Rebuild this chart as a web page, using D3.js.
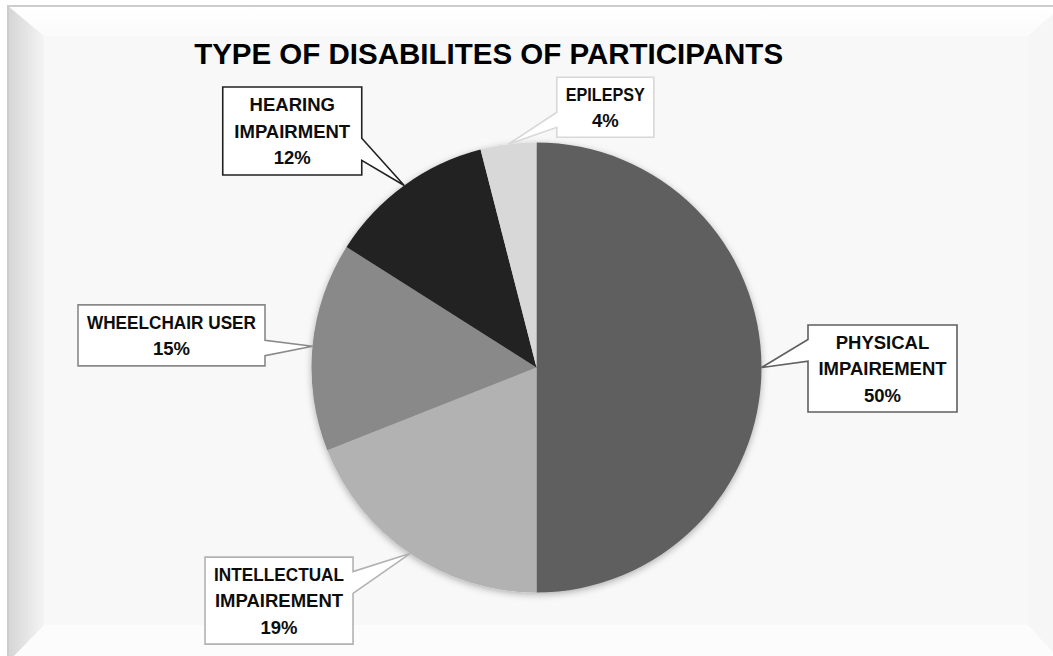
<!DOCTYPE html>
<html>
<head>
<meta charset="utf-8">
<script src="https://cdn.jsdelivr.net/npm/d3@7"></script>
<style>
  html, body { margin: 0; padding: 0; background: #ffffff; }
  svg { display: block; }
  text { font-family: "Liberation Sans", Arial, sans-serif; font-weight: bold; fill: #0d0d0d; }
</style>
</head>
<body>
<svg id="chart" width="1053" height="656"></svg>
<script>
// ---- data ----
const categories = ["PHYSICAL IMPAIREMENT", "INTELLECTUAL IMPAIREMENT", "WHEELCHAIR USER", "HEARING IMPAIRMENT", "EPILEPSY"];
const values = [50, 19, 15, 12, 4];
const labelLines = [
  ["PHYSICAL", "IMPAIREMENT"],
  ["INTELLECTUAL", "IMPAIREMENT"],
  ["WHEELCHAIR USER"],
  ["HEARING", "IMPAIRMENT"],
  ["EPILEPSY"]
];
const title = "TYPE OF DISABILITES OF PARTICIPANTS";

// ---- styling / layout ----
const palette = ["#5f5f5f", "#b2b2b2", "#898989", "#212121", "#d8d8d8"];
// callout box: offset of box centre from slice rim anchor, and box size
const callouts = {
  "PHYSICAL IMPAIREMENT":     { dx: 121,   dy: 1,     w: 149, h: 87 },
  "INTELLECTUAL IMPAIREMENT": { dx: -131,  dy: 47,    w: 148, h: 87 },
  "WHEELCHAIR USER":          { dx: -141,  dy: -11,   w: 187, h: 61 },
  "HEARING IMPAIRMENT":       { dx: -112,  dy: -54.5, w: 139, h: 88 },
  "EPILEPSY":                 { dx: 97,    dy: -37,   w: 97,  h: 60 }
};

const W = 1053, H = 656;
const cx = 536.5, cy = 367.5, R = 225;
const lineGap = 26.5, fontSize = 18.5;

const svg = d3.select("#chart");
const defs = svg.append("defs");

// bevelled frame
const gl = defs.append("linearGradient").attr("id", "bevelLeft").attr("x1", 0).attr("x2", 1).attr("y1", 0).attr("y2", 0);
gl.append("stop").attr("offset", 0).attr("stop-color", "#d5d5d5");
gl.append("stop").attr("offset", 1).attr("stop-color", "#f4f4f4");
const gt = defs.append("linearGradient").attr("id", "bevelTop").attr("x1", 0).attr("x2", 0).attr("y1", 0).attr("y2", 1);
gt.append("stop").attr("offset", 0).attr("stop-color", "#ffffff");
gt.append("stop").attr("offset", 1).attr("stop-color", "#fbfbfb");

const shadow = defs.append("filter").attr("id", "pieShadow")
  .attr("x", "-20%").attr("y", "-20%").attr("width", "140%").attr("height", "140%");
shadow.append("feDropShadow").attr("dx", 0).attr("dy", 2).attr("stdDeviation", 3.5)
  .attr("flood-color", "#000").attr("flood-opacity", 0.3);

const frame = svg.append("g");
const fx0 = 8, fy0 = 6, fx1 = 1062, fy1 = 662;
const ix0 = 44, iy0 = 36, ix1 = 1028, iy1 = 625;
frame.append("rect").attr("x", fx0).attr("y", fy0).attr("width", fx1 - fx0).attr("height", fy1 - fy0)
  .attr("fill", "#f8f8f8");
frame.append("polygon").attr("points", [[fx0, fy0], [fx1, fy0], [ix1, iy0], [ix0, iy0]].join(" "))
  .attr("fill", "url(#bevelTop)");
frame.append("polygon").attr("points", [[ix1, iy0], [fx1, fy0], [fx1, fy1], [ix1, iy1]].join(" "))
  .attr("fill", "#f6f6f6");
frame.append("polygon").attr("points", [[ix0, iy1], [ix1, iy1], [fx1, fy1], [fx0, fy1]].join(" "))
  .attr("fill", "#fcfcfc");
frame.append("polygon").attr("points", [[fx0, fy0], [ix0, iy0], [ix0, iy1], [fx0, fy1]].join(" "))
  .attr("fill", "url(#bevelLeft)");
frame.append("rect").attr("x", ix0).attr("y", iy0).attr("width", ix1 - ix0).attr("height", iy1 - iy0)
  .attr("fill", "#f8f8f8");
frame.append("path").attr("d", `M${fx0},${fy1} L${fx0},${fy0} L${W},${fy0}`)
  .attr("fill", "none").attr("stroke", "#cdcdcd").attr("stroke-width", 2);

// title
svg.append("text")
  .attr("x", 488.6).attr("y", 63.5)
  .attr("text-anchor", "middle")
  .style("font-size", "29.5px")
  .style("fill", "#000")
  .text(title);

// pie
const data = categories.map((c, i) => ({ category: c, value: values[i], lines: labelLines[i], color: palette[i] }));
const pie = d3.pie().value(d => d.value).sort(null).startAngle(0).endAngle(2 * Math.PI);
const arcs = pie(data);
const arc = d3.arc().innerRadius(0).outerRadius(R);

const pieG = svg.append("g").attr("transform", `translate(${cx},${cy})`).attr("filter", "url(#pieShadow)");
pieG.selectAll("path.slice")
  .data(arcs)
  .join("path")
  .attr("class", "slice")
  .attr("d", arc)
  .attr("fill", d => d.data.color);

// callout labels (rectangle with wedge pointing at the slice)
function calloutPath(l, t, w, h, tx, ty) {
  const r = l + w, b = t + h;
  const hc = l + w / 2, vc = t + h / 2;
  const dxPos = tx - hc, dyPos = ty - vc;
  const dq = dxPos * h / w;
  if (Math.abs(dyPos) <= Math.abs(dq)) {
    // wedge on left/right side
    const y1 = dyPos > 0 ? t + h * 7 / 12 : t + h * 2 / 12;
    const y2 = dyPos > 0 ? t + h * 10 / 12 : t + h * 5 / 12;
    if (dxPos < 0) {
      return `M${l},${t} L${r},${t} L${r},${b} L${l},${b} L${l},${y2} L${tx},${ty} L${l},${y1} Z`;
    }
    return `M${l},${t} L${r},${t} L${r},${y1} L${tx},${ty} L${r},${y2} L${r},${b} L${l},${b} Z`;
  }
  const x1 = dxPos > 0 ? l + w * 7 / 12 : l + w * 2 / 12;
  const x2 = dxPos > 0 ? l + w * 10 / 12 : l + w * 5 / 12;
  if (dyPos < 0) {
    return `M${l},${t} L${x1},${t} L${tx},${ty} L${x2},${t} L${r},${t} L${r},${b} L${l},${b} Z`;
  }
  return `M${l},${t} L${r},${t} L${r},${b} L${x2},${b} L${tx},${ty} L${x1},${b} L${l},${b} Z`;
}

const labelG = svg.append("g");
arcs.forEach(a => {
  const mid = (a.startAngle + a.endAngle) / 2;
  const ax = cx + R * Math.sin(mid);
  const ay = cy - R * Math.cos(mid);
  const c = callouts[a.data.category];
  const bx = ax + c.dx, by = ay + c.dy;
  const l = bx - c.w / 2, t = by - c.h / 2;

  labelG.append("path")
    .attr("d", calloutPath(l, t, c.w, c.h, ax, ay))
    .attr("fill", "#ffffff")
    .attr("stroke", a.data.color)
    .attr("stroke-width", 1.6)
    .attr("stroke-linejoin", "miter");

  const lines = a.data.lines.concat([d3.format(".0%")(a.data.value / d3.sum(values))]);
  const capHalf = fontSize * 0.716 / 2;
  const firstCenter = by - (lines.length - 1) * lineGap / 2;
  const txt = labelG.append("text")
    .attr("text-anchor", "middle")
    .style("font-size", fontSize + "px");
  lines.forEach((s, i) => {
    const ts = txt.append("tspan")
      .attr("x", bx)
      .attr("y", firstCenter + i * lineGap + capHalf)
      .text(s);
    // keep long lines inside their box
    const maxW = c.w - 18;
    if (ts.node().getComputedTextLength() > maxW) {
      ts.attr("textLength", maxW).attr("lengthAdjust", "spacingAndGlyphs");
    }
  });
});
</script>
</body>
</html>
